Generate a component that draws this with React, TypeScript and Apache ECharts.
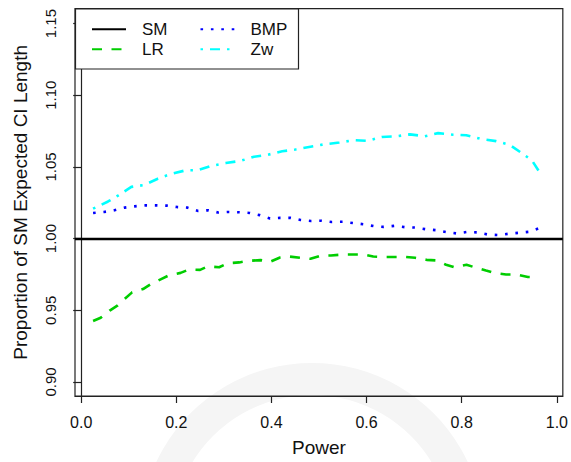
import React, { useEffect, useRef } from "react";
import * as echarts from "echarts";

const xTicks = [0, 0.2, 0.4, 0.6, 0.8, 1.0];
const yTicks = [0.9, 0.95, 1.0, 1.05, 1.1, 1.15];
const smLevel = 1.0;

const lrPower = [0.025, 0.041, 0.06, 0.076, 0.093, 0.107, 0.13, 0.146, 0.167, 0.184, 0.209, 0.226, 0.25, 0.267, 0.29, 0.308, 0.332, 0.351, 0.377, 0.397, 0.418, 0.438, 0.461, 0.482, 0.504, 0.525, 0.55, 0.57, 0.593, 0.614, 0.637, 0.658, 0.682, 0.702, 0.726, 0.747, 0.767, 0.785, 0.81, 0.827, 0.851, 0.87, 0.893, 0.914, 0.939, 0.958];
const lrValues = [0.9425, 0.9448, 0.9498, 0.9532, 0.9584, 0.9625, 0.9648, 0.9682, 0.9716, 0.9743, 0.9761, 0.9784, 0.9782, 0.9807, 0.98, 0.9828, 0.9834, 0.9845, 0.985, 0.9838, 0.9868, 0.9875, 0.9866, 0.9859, 0.9882, 0.9882, 0.9889, 0.9889, 0.9889, 0.9875, 0.9872, 0.9872, 0.9872, 0.9866, 0.9852, 0.9848, 0.9818, 0.98, 0.9818, 0.98, 0.9777, 0.9759, 0.975, 0.975, 0.9732, 0.9732];

const bmpPower = [0.025, 0.048, 0.07, 0.091, 0.112, 0.135, 0.158, 0.18, 0.202, 0.224, 0.246, 0.267, 0.288, 0.31, 0.332, 0.354, 0.375, 0.397, 0.418, 0.44, 0.461, 0.483, 0.504, 0.527, 0.55, 0.571, 0.594, 0.615, 0.636, 0.658, 0.68, 0.702, 0.724, 0.746, 0.767, 0.789, 0.81, 0.833, 0.854, 0.877, 0.899, 0.921, 0.943, 0.963];
const bmpValues = [1.0179, 1.0186, 1.0198, 1.0216, 1.0225, 1.0232, 1.0232, 1.023, 1.022, 1.0216, 1.0193, 1.0198, 1.0182, 1.0186, 1.0184, 1.0179, 1.0164, 1.0141, 1.0145, 1.0145, 1.013, 1.0123, 1.0125, 1.0116, 1.0118, 1.0109, 1.01, 1.0087, 1.0082, 1.0089, 1.008, 1.0077, 1.0066, 1.0059, 1.0046, 1.0036, 1.0046, 1.0043, 1.0029, 1.0025, 1.0034, 1.0041, 1.0048, 1.0073];

const zwPower = [0.025, 0.0565, 0.0774, 0.1054, 0.1318, 0.161, 0.1877, 0.2205, 0.2448, 0.276, 0.304, 0.3356, 0.3634, 0.391, 0.4226, 0.4506, 0.482, 0.5134, 0.5427, 0.5726, 0.6025, 0.6318, 0.662, 0.6912, 0.7226, 0.7504, 0.7818, 0.8096, 0.841, 0.8724, 0.9004, 0.9247, 0.9477, 0.9644];
const zwValues = [1.0209, 1.0259, 1.03, 1.0361, 1.0373, 1.0418, 1.045, 1.0477, 1.0477, 1.0509, 1.0527, 1.0543, 1.0571, 1.0584, 1.0609, 1.0622, 1.0641, 1.0659, 1.067, 1.0687, 1.0682, 1.0709, 1.0714, 1.0727, 1.0714, 1.0736, 1.0725, 1.0721, 1.0695, 1.068, 1.0655, 1.06, 1.0545, 1.0459];

const zip = (xs: number[], ys: number[]) => xs.map((x, i) => [x, ys[i]]);

const FONT = "'Liberation Sans', Arial, Helvetica, sans-serif";

const legendBase = {
  orient: "vertical",
  top: 20.8,
  itemWidth: 34,
  itemHeight: 17,
  itemGap: 3,
  padding: 0,
  z: 20,
  selectedMode: false,
  itemStyle: { color: "rgba(0,0,0,0)", borderColor: "rgba(0,0,0,0)", borderWidth: 0, opacity: 0 },
  textStyle: { fontSize: 17, color: "#111", fontFamily: FONT, padding: [0, 0, 0, 11] },
};

export default function App() {
  const ref = useRef<HTMLDivElement>(null);
  useEffect(() => {
    if (!ref.current) return;
    const chart = echarts.init(ref.current, null, { renderer: "svg" });
    const option: any = {
      animation: false,
      backgroundColor: "#ffffff",
      textStyle: { fontFamily: FONT },
      grid: {
        left: 75,
        right: 5.7,
        top: 8.7,
        bottom: 57,
        show: true,
        borderColor: "#222",
        borderWidth: 1.2,
        backgroundColor: "transparent",
      },
      graphic: [
        {
          type: "ring",
          z: -10,
          silent: true,
          shape: { cx: 312, cy: 535, r: 172, r0: 140 },
          style: { fill: "#f5f5f5" },
        },
        {
          type: "rect",
          z: 10,
          silent: true,
          shape: { x: 75.5, y: 9, width: 223, height: 60 },
          style: { fill: "#ffffff", stroke: "#222", lineWidth: 1.2 },
        },
      ],
      legend: [
        { ...legendBase, data: ["SM", "LR"], left: 91 },
        { ...legendBase, data: ["BMP", "Zw"], left: 199.5 },
      ],
      xAxis: {
        type: "value",
        min: -0.013,
        max: 1.0125,
        splitLine: { show: false },
        axisLine: { show: true, lineStyle: { color: "#222", width: 1.2 } },
        axisTick: { show: true, length: 7, customValues: xTicks, lineStyle: { color: "#222", width: 1.2 } },
        axisLabel: {
          customValues: xTicks,
          formatter: (v: number) => v.toFixed(1),
          fontSize: 16,
          color: "#111",
          margin: 18,
          fontFamily: FONT,
        },
        name: "Power",
        nameLocation: "middle",
        nameGap: 42,
        nameTextStyle: { fontSize: 19, color: "#111", fontFamily: FONT },
      },
      yAxis: {
        type: "value",
        min: 0.8902,
        max: 1.1604,
        splitLine: { show: false },
        axisLine: { show: true, lineStyle: { color: "#222", width: 1.2 } },
        axisTick: { show: true, length: 8, customValues: yTicks, lineStyle: { color: "#222", width: 1.2 } },
        axisLabel: {
          customValues: yTicks,
          formatter: (v: number) => v.toFixed(2),
          rotate: 90,
          fontSize: 15,
          color: "#111",
          margin: 17,
          fontFamily: FONT,
        },
        name: "Proportion of SM Expected CI Length",
        nameLocation: "middle",
        nameGap: 45,
        nameTextStyle: { fontSize: 19, color: "#111", fontFamily: FONT },
      },
      series: [
        {
          name: "SM",
          type: "line",
          data: [],
          symbol: "none",
          lineStyle: { color: "#000000", width: 2.4, type: "solid" },
          itemStyle: { color: "#000000" },
          markLine: {
            silent: true,
            symbol: ["none", "none"],
            label: { show: false },
            lineStyle: { color: "#000000", width: 2.4, type: "solid" },
            data: [{ yAxis: smLevel }],
          },
        },
        {
          name: "LR",
          type: "line",
          data: zip(lrPower, lrValues),
          symbol: "none",
          lineStyle: { color: "#00CD00", width: 2.6, type: [10, 9.5] },
          itemStyle: { color: "#00CD00" },
        },
        {
          name: "BMP",
          type: "line",
          data: zip(bmpPower, bmpValues),
          symbol: "none",
          lineStyle: { color: "#0000FF", width: 2.6, type: [2.6, 7.8] },
          itemStyle: { color: "#0000FF" },
        },
        {
          name: "Zw",
          type: "line",
          data: zip(zwPower, zwValues),
          symbol: "none",
          lineStyle: { color: "#00FFFF", width: 2.6, type: [2.5, 7, 10, 7] },
          itemStyle: { color: "#00FFFF" },
        },
      ],
    };
    chart.setOption(option);
    return () => chart.dispose();
  }, []);
  return (
    <div
      ref={ref}
      style={{ position: "absolute", left: 0, top: 0, width: 571, height: 462, background: "#fff" }}
    />
  );
}
